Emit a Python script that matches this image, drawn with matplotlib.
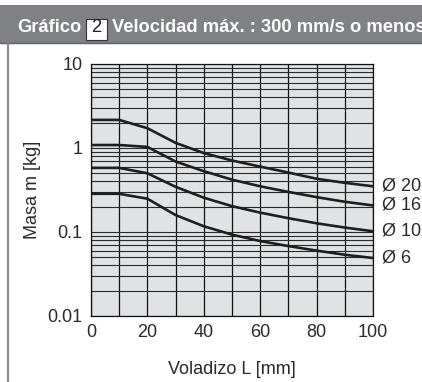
import matplotlib
matplotlib.use("Agg")
import matplotlib.pyplot as plt
from matplotlib.patches import Rectangle
from matplotlib.lines import Line2D
from matplotlib.ticker import LogLocator, FixedLocator, FuncFormatter, NullFormatter

plt.rcParams['font.family'] = ['Liberation Sans', 'DejaVu Sans']

# ---- data ----
overhang = [0, 10, 20, 30, 40, 50, 60, 70, 80, 90, 100]
mass_d20 = [2.16, 2.16, 1.72, 1.15, 0.87, 0.71, 0.60, 0.51, 0.43, 0.385, 0.35]
mass_d16 = [1.085, 1.085, 1.03, 0.69, 0.53, 0.42, 0.35, 0.30, 0.26, 0.229, 0.207]
mass_d10 = [0.58, 0.58, 0.50, 0.345, 0.256, 0.203, 0.17, 0.146, 0.127, 0.113, 0.102]
mass_d6 = [0.285, 0.285, 0.249, 0.159, 0.117, 0.093, 0.078, 0.068, 0.060, 0.0536, 0.049]
series = [("Ø 20", mass_d20), ("Ø 16", mass_d16), ("Ø 10", mass_d10), ("Ø 6", mass_d6)]
x_ticks = [0, 20, 40, 60, 80, 100]
y_ticks = [0.01, 0.1, 1, 10]
title_a = "Gráfico"
title_num = "2"
title_b = "Velocidad máx. : 300 mm/s o menos"
xlabel = "Voladizo L [mm]"
ylabel = "Masa m [kg]"

W, H = 422, 382
fig = plt.figure(figsize=(W / 100, H / 100), dpi=100)
fig.patch.set_facecolor("white")

def fx(px):
    return px / W

def fy(py):
    return 1 - py / H

# title bar
fig.patches.append(Rectangle((0, fy(43)), 1, fy(5) - fy(43), transform=fig.transFigure,
                             facecolor="#808184", edgecolor="none", zorder=0))
fig.lines.append(Line2D([0, 1], [fy(43), fy(43)], transform=fig.transFigure,
                        color="#5f6063", lw=1.0))
# left panel border
fig.lines.append(Line2D([fx(8), fx(8)], [fy(43), 0], transform=fig.transFigure,
                        color="#8a8a8a", lw=1.5))
fig.text(fx(17), fy(32), title_a, color="white", fontsize=13.2, fontweight="bold",
         va="baseline", ha="left")
fig.patches.append(Rectangle((fx(86), fy(40)), fx(107) - fx(86), fy(19) - fy(40),
                             transform=fig.transFigure, facecolor="white",
                             edgecolor="#333333", lw=0.8, zorder=2))
fig.text(fx(96.5), fy(32.5), title_num, color="#222222", fontsize=13.2,
         va="baseline", ha="center", zorder=3)
fig.text(fx(112), fy(32), title_b, color="white", fontsize=13.2, fontweight="bold",
         va="baseline", ha="left")

# axes
ax = fig.add_axes([fx(91), fy(316), fx(373) - fx(91), fy(64) - fy(316)])
ax.set_facecolor("#e1e2e4")
ax.set_yscale("log")
ax.set_xlim(0, 100)
ax.set_ylim(0.01, 10)

ax.yaxis.set_major_locator(FixedLocator(y_ticks))
ax.yaxis.set_major_formatter(FuncFormatter(lambda v, p: f"{v:g}"))
ax.yaxis.set_minor_locator(LogLocator(base=10, subs=range(2, 10)))
ax.yaxis.set_minor_formatter(NullFormatter())
ax.xaxis.set_major_locator(FixedLocator(x_ticks))
ax.xaxis.set_minor_locator(FixedLocator(list(range(10, 100, 20))))

ax.grid(True, which="both", axis="y", color="#2a2a2a", lw=0.8)
ax.grid(True, which="both", axis="x", color="#111111", lw=0.9)
ax.set_axisbelow(True)
ax.tick_params(which="both", length=0, pad=6, labelsize=13, colors="#2a2a2a")
for s in ax.spines.values():
    s.set_color("#111111")
    s.set_linewidth(0.9)

for name, vals in series:
    ax.plot(overhang, vals, color="#1e1e1e", lw=1.9, solid_capstyle="butt", zorder=3)
    ax.annotate(name, xy=(overhang[-1], vals[-1]), xytext=(9, 0),
                textcoords="offset pixels", va="center", ha="left",
                fontsize=13, color="#2a2a2a", annotation_clip=False)

ax.set_xlabel(xlabel, fontsize=13, color="#2a2a2a", labelpad=14)
ax.set_ylabel(ylabel, fontsize=13, color="#2a2a2a", labelpad=4.5)

fig.savefig("out.png", dpi=100)
